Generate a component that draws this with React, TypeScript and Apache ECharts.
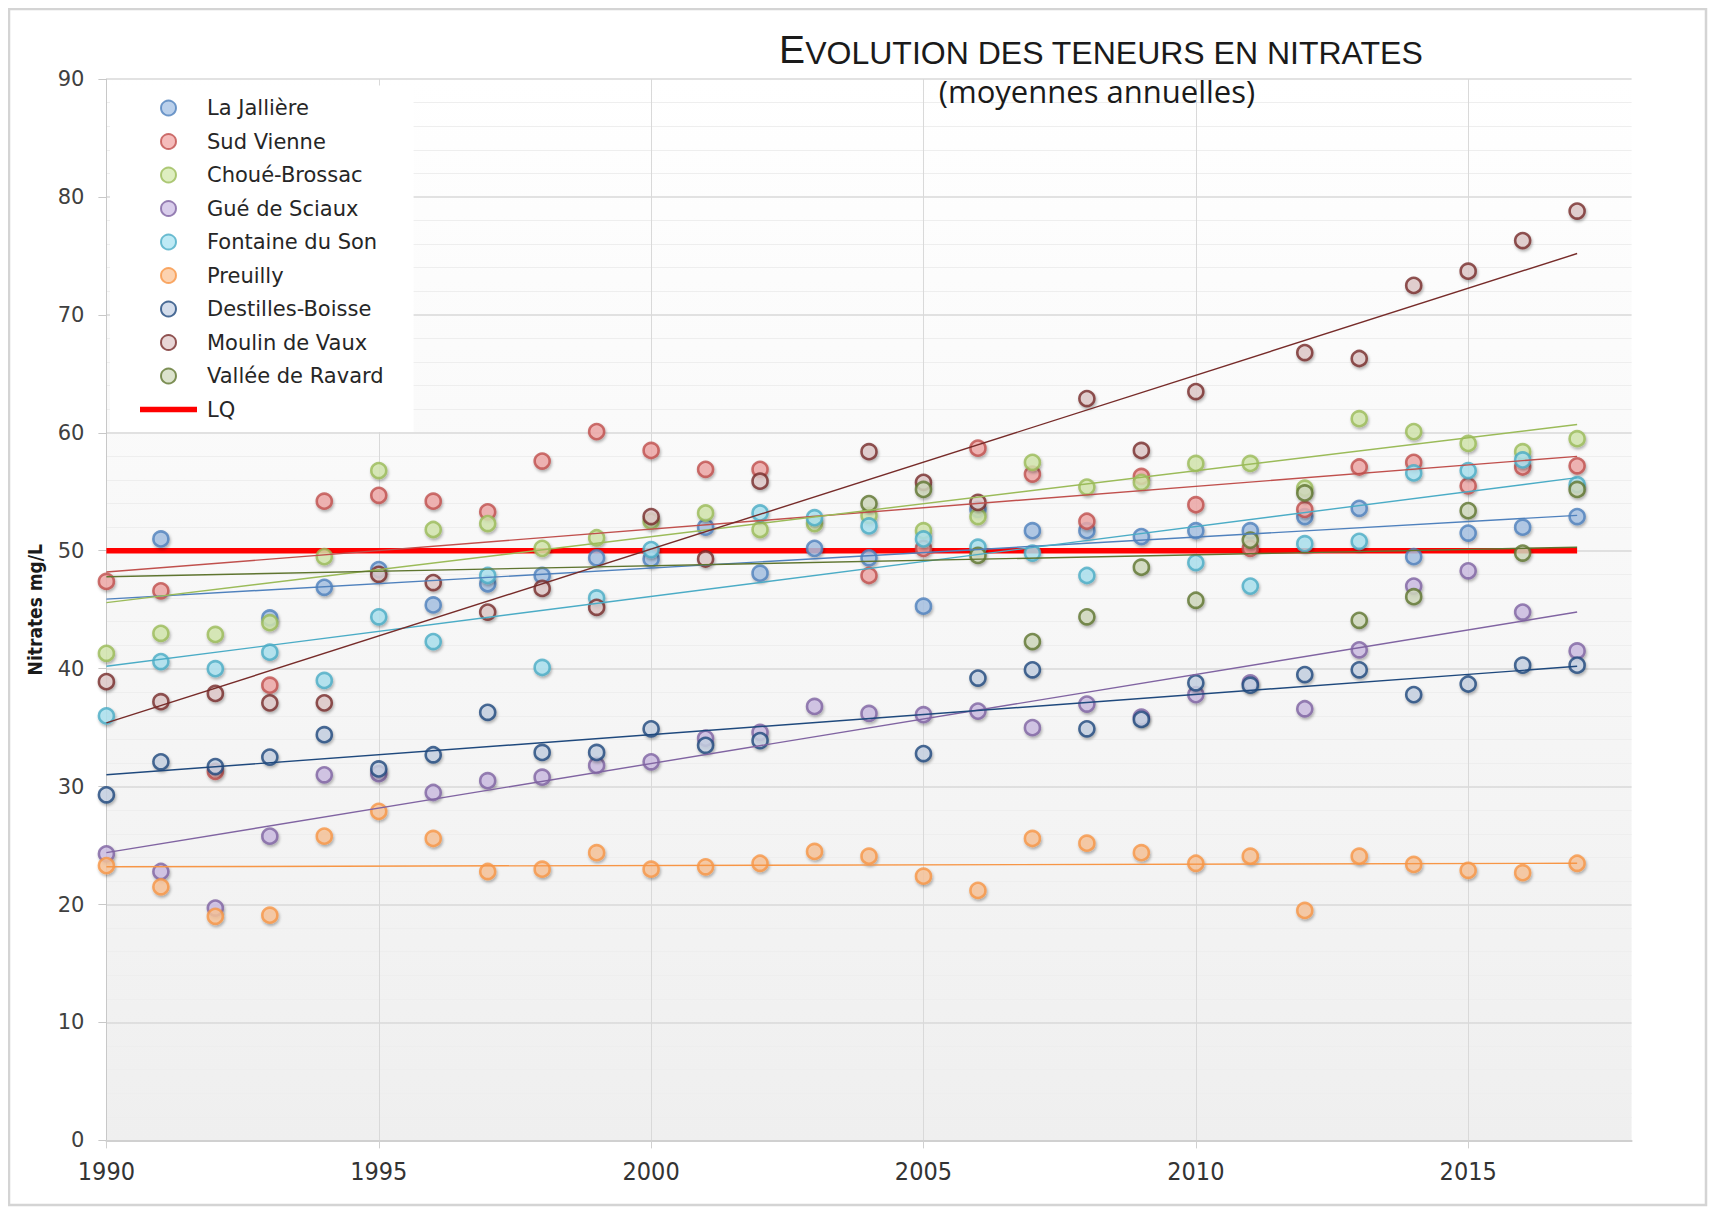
import React, { useEffect, useRef } from "react";
import * as echarts from "echarts";

// ---------- DATA ----------
const years = [
  1990, 1991, 1992, 1993, 1994, 1995, 1996, 1997, 1998, 1999,
  2000, 2001, 2002, 2003, 2004, 2005, 2006, 2007, 2008, 2009,
  2010, 2011, 2012, 2013, 2014, 2015, 2016, 2017,
];

const laJalliere = [
  null, 51.0, null, 44.3, 46.9, 48.4, 45.4, 47.2, 47.9, 49.4,
  49.3, 52.0, 48.1, 50.2, 49.4, 45.3, 53.5, 51.7, 51.7, 51.2,
  51.7, 51.7, 52.9, 53.6, 49.5, 51.5, 52.0, 52.9,
];
const sudVienne = [
  47.4, 46.6, 31.3, 38.6, 54.2, 54.7, 54.2, 53.3, 57.6, 60.1,
  58.5, 56.9, 56.9, null, 47.9, 50.2, 58.7, 56.5, 52.5, 56.3,
  53.9, 50.2, 53.5, 57.1, 57.5, 55.5, 57.1, 57.2,
];
const choueBrossac = [
  41.3, 43.0, 42.9, 43.9, 49.5, 56.8, 51.8, 52.3, 50.2, 51.1,
  52.5, 53.2, 51.8, 52.3, 53.0, 51.7, 52.9, 57.5, 55.4, 55.8,
  57.4, 57.4, 55.3, 61.2, 60.1, 59.1, 58.4, 59.5,
];
const gueDeSciaux = [
  24.3, 22.8, 19.7, 25.8, 31.0, 31.1, 29.5, 30.5, 30.8, 31.8,
  32.1, 34.1, 34.6, 36.8, 36.2, 36.1, 36.4, 35.0, 37.0, 35.9,
  37.8, 38.8, 36.6, 41.6, 47.0, 48.3, 44.8, 41.5,
];
const fontaineDuSon = [
  36.0, 40.6, 40.0, 41.4, 39.0, 44.4, 42.3, 47.9, 40.1, 46.0,
  50.1, null, 53.2, 52.8, 52.1, 51.0, 50.3, 49.8, 47.9, null,
  49.0, 47.0, 50.6, 50.8, 56.6, 56.8, 57.7, 55.6,
];
const preuilly = [
  23.3, 21.5, 19.0, 19.1, 25.8, 27.9, 25.6, 22.8, 23.0, 24.4,
  23.0, 23.2, 23.5, 24.5, 24.1, 22.4, 21.2, 25.6, 25.2, 24.4,
  23.5, 24.1, 19.5, 24.1, 23.4, 22.9, 22.7, 23.5,
];
const destillesBoisse = [
  29.3, 32.1, 31.7, 32.5, 34.4, 31.5, 32.7, 36.3, 32.9, 32.9,
  34.9, 33.5, 33.9, null, null, 32.8, 39.2, 39.9, 34.9, 35.7,
  38.8, 38.6, 39.5, 39.9, 37.8, 38.7, 40.3, 40.3,
];
const moulinDeVaux = [
  38.9, 37.2, 37.9, 37.1, 37.1, 48.0, 47.3, 44.8, 46.8, 45.2,
  52.9, 49.3, 55.9, null, 58.4, 55.8, 54.1, null, 62.9, 58.5,
  63.5, null, 66.8, 66.3, 72.5, 73.7, 76.3, 78.8,
];
const valleeDeRavard = [
  null, null, null, null, null, null, null, null, null, null,
  null, null, null, null, 54.0, 55.2, 49.6, 42.3, 44.4, 48.6,
  45.8, 50.9, 54.9, 44.1, 46.1, 53.4, 49.8, 55.2,
];

const stationNames = [
  "La Jallière", "Sud Vienne", "Choué-Brossac", "Gué de Sciaux",
  "Fontaine du Son", "Preuilly", "Destilles-Boisse", "Moulin de Vaux",
  "Vallée de Ravard",
];
const stationValues = [
  laJalliere, sudVienne, choueBrossac, gueDeSciaux, fontaineDuSon,
  preuilly, destillesBoisse, moulinDeVaux, valleeDeRavard,
];

// linear trend lines: value at first and last year
const trendYears = [1990, 2017];
const trendStart = [45.9, 48.2, 45.6, 24.4, 40.2, 23.2, 31.0, 35.4, 47.8];
const trendEnd = [53.0, 58.0, 60.7, 44.8, 56.2, 23.5, 40.2, 75.2, 50.3];

const lqName = "LQ";
const lqValue = 50;
const lqYears = [1990, 2017];

const xTickYears = [1990, 1995, 2000, 2005, 2010, 2015];

// ---------- STYLES ----------
const strokeColors = [
  "#4f81bd", "#c0504d", "#9bbb59", "#8064a2", "#4bacc6",
  "#f79646", "#1f497d", "#772c2a", "#5f7530",
];
const fillColors = [
  "#a9c4e6", "#f2abaa", "#d6eab0", "#cfc0e6", "#aee5f3",
  "#fbc79c", "#c9d5e6", "#e2cccc", "#d3dcc0",
];
const condensedFont = '"DejaVu Sans Condensed", "Liberation Sans", sans-serif';

function buildOption() {
  const scatterSeries = stationNames.map((name, i) => ({
    name,
    type: "scatter",
    symbol: "circle",
    symbolSize: 15,
    z: 3,
    data: years
      .map((y, k) => (stationValues[i][k] == null ? null : [y, stationValues[i][k]]))
      .filter((d) => d !== null),
    itemStyle: {
      color: fillColors[i],
      borderColor: strokeColors[i],
      borderWidth: 2.6,
      shadowBlur: 3,
      shadowOffsetX: 1,
      shadowOffsetY: 2,
      shadowColor: "rgba(0,0,0,0.35)",
    },
  }));

  const trendSeries = stationNames.map((name, i) => ({
    name: name + " (tendance)",
    type: "line",
    symbol: "none",
    silent: true,
    z: 4,
    data: [
      [trendYears[0], trendStart[i]],
      [trendYears[1], trendEnd[i]],
    ],
    lineStyle: { color: strokeColors[i], width: 1.4 },
  }));

  const lqSeries = {
    name: lqName,
    type: "line",
    symbol: "none",
    showSymbol: false,
    silent: true,
    z: 2,
    color: "#ff0000",
    data: lqYears.map((y) => [y, lqValue]),
    lineStyle: { color: "#ff0000", width: 5.5 },
    itemStyle: { color: "#ff0000", borderWidth: 0 },
  };

  return {
    animation: false,
    textStyle: { fontFamily: "DejaVu Sans" },
    grid: {
      left: 98.4,
      right: 79.4,
      top: 71,
      bottom: 67.6,
      show: true,
      borderWidth: 0,
      backgroundColor: new echarts.graphic.LinearGradient(0, 0, 0, 1, [
        { offset: 0, color: "#ffffff" },
        { offset: 1, color: "#efefef" },
      ]),
    },
    legend: {
      orient: "vertical",
      left: 102,
      top: 77.5,
      padding: [12, 30, 12, 30],
      backgroundColor: "#ffffff",
      itemWidth: 57,
      itemHeight: 15,
      itemGap: 12.5,
      symbolKeepAspect: true,
      textStyle: { fontSize: 21, color: "#262626", fontFamily: "DejaVu Sans", padding: [0, 0, 0, 5] },
      data: [
        ...stationNames.map((n) => ({ name: n, icon: "circle" })),
        { name: lqName, icon: "path://M0 0H57V5.5H0Z", itemStyle: { color: "#ff0000", borderWidth: 0 } },
      ],
    },
    xAxis: {
      type: "value",
      min: 1990,
      max: 2018,
      interval: 5,
      axisLine: { show: true, onZero: false, lineStyle: { color: "#d0d0d0", width: 2 } },
      axisTick: {
        show: true,
        length: 8,
        customValues: xTickYears,
        lineStyle: { color: "#d0d0d0" },
      },
      axisLabel: {
        customValues: xTickYears,
        formatter: (v: number) => (v % 5 === 0 ? String(v) : ""),
        fontFamily: condensedFont,
        fontSize: 25,
        color: "#333333",
        margin: 19,
      },
      splitLine: {
        show: true,
        lineStyle: {
          color: ["#d9d9d9", "#d9d9d9", "#d9d9d9", "#d9d9d9", "#d9d9d9", "#d9d9d9", "rgba(0,0,0,0)"],
          width: 1,
        },
      },
    },
    yAxis: {
      type: "value",
      min: 0,
      max: 90,
      interval: 10,
      name: "Nitrates mg/L",
      nameLocation: "middle",
      nameRotate: 90,
      nameGap: 62,
      nameTextStyle: {
        fontFamily: condensedFont,
        fontWeight: "bold",
        fontSize: 19,
        color: "#1a1a1a",
      },
      axisLine: { show: true, lineStyle: { color: "#c8c8c8", width: 1 } },
      axisTick: { show: true, length: 8, lineStyle: { color: "#c8c8c8" } },
      axisLabel: { fontSize: 21, color: "#404040", margin: 22, fontFamily: "DejaVu Sans" },
      splitLine: { show: true, lineStyle: { color: "#d9d9d9", width: 1.5 } },
      minorTick: { show: false, splitNumber: 5 },
      minorSplitLine: { show: true, lineStyle: { color: "#eeeeee", width: 1 } },
    },
    graphic: [
      {
        type: "rect",
        silent: true,
        z: -10,
        shape: { x: 1, y: 1, width: 1697, height: 1196 },
        style: { fill: "none", stroke: "#d4d4d4", lineWidth: 2.5 },
      },
      {
        type: "text",
        x: 1093,
        y: 41,
        z: 10,
        style: {
          text: "{a|E}{b|VOLUTION DES TENEURS EN NITRATES}",
          align: "center",
          verticalAlign: "middle",
          rich: {
            a: { fontSize: 39, fontFamily: "Liberation Sans", fill: "#1a1a1a", verticalAlign: "bottom" },
            b: { fontSize: 32, fontFamily: "Liberation Sans", fill: "#1a1a1a", verticalAlign: "bottom" },
          },
        },
      },
      {
        type: "text",
        x: 1089,
        y: 83,
        z: 10,
        style: {
          text: "(moyennes annuelles)",
          align: "center",
          verticalAlign: "middle",
          fontSize: 31,
          fontFamily: "Open Sans",
          fill: "#1a1a1a",
        },
      },
    ],
    series: [lqSeries, ...scatterSeries, ...trendSeries],
  };
}

export default function App() {
  const ref = useRef<HTMLDivElement>(null);
  useEffect(() => {
    if (!ref.current) return;
    const chart = echarts.init(ref.current, null, { renderer: "svg" });
    chart.setOption(buildOption() as any);
    return () => chart.dispose();
  }, []);
  return <div ref={ref} style={{ width: 1703, height: 1200 }} />;
}
